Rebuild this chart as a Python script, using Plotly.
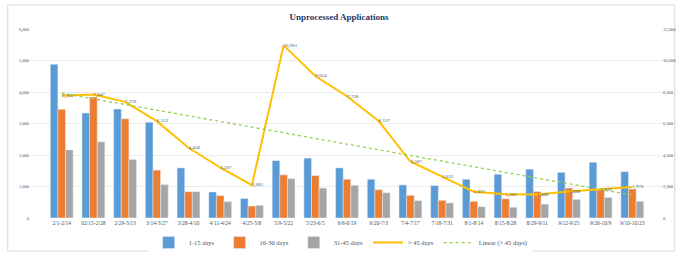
import numpy as np
import plotly.graph_objects as go

categories = ["2/1-2/14", "02/15-2/28", "2/29-3/13", "3/14-3/27", "3/28-4/10", "4/11-4/24",
              "4/25-5/8", "5/9-5/22", "5/23-6/5", "6/6-6/19", "6/20-7/3", "7/4-7/17",
              "7/18-7/31", "8/1-8/14", "8/15-8/28", "8/29-9/11", "9/12-9/25", "9/26-10/9",
              "9/10-10/23"]
days_1_15 = [4880, 3330, 3460, 3040, 1590, 825, 620, 1820, 1900, 1590, 1230, 1050,
             1030, 1230, 1390, 1550, 1450, 1770, 1470]
days_16_30 = [3450, 3840, 3150, 1520, 835, 710, 380, 1370, 1350, 1230, 900, 720,
              560, 530, 610, 840, 950, 890, 920]
days_31_45 = [2160, 2420, 1860, 1060, 835, 520, 400, 1250, 950, 1040, 800, 550,
              480, 360, 340, 440, 590, 650, 530]
days_over_45 = [7765, 7847, 7376, 6152, 4458, 3207, 2081, 10961, 9014, 7728, 6157, 3587,
                2632, 1671, 1502, 1488, 1688, 1822, 1976]

# Linear trendline of the "> 45 days" series (least-squares, like the spreadsheet trendline)
xi = np.arange(len(days_over_45))
slope, intercept = np.polyfit(xi, days_over_45, 1)
trend = (slope * xi + intercept).tolist()

SERIF = "Liberation Serif, Times New Roman, serif"
LABEL_COLOR = "#44546A"

fig = go.Figure()
fig.add_trace(go.Bar(x=categories, y=days_1_15, name="1-15 days", marker_color="#5B9BD5"))
fig.add_trace(go.Bar(x=categories, y=days_16_30, name="16-30 days", marker_color="#ED7D31"))
fig.add_trace(go.Bar(x=categories, y=days_31_45, name="31-45 days", marker_color="#A5A5A5"))
fig.add_trace(go.Scatter(
    x=categories, y=days_over_45, name="> 45 days", yaxis="y2", mode="lines+text",
    line=dict(color="#FFC000", width=2),
    text=[f"{v:,}" for v in days_over_45], textposition="middle right",
    textfont=dict(size=5, color=LABEL_COLOR, family=SERIF),
))
fig.add_trace(go.Scatter(
    x=categories, y=trend, name="Linear (> 45 days)", yaxis="y2", mode="lines",
    line=dict(color="#92D050", width=1.3, dash="dot"),
))

fig.update_layout(
    width=678, height=255,
    margin=dict(l=30, r=14, t=29, b=37, autoexpand=False),
    paper_bgcolor="white", plot_bgcolor="white",
    barmode="group", bargap=0.28, bargroupgap=0,
    font=dict(family=SERIF, color=LABEL_COLOR, size=6),
    title=dict(text="<b>Unprocessed Applications</b>", x=0.5, xanchor="center",
               y=1 - 17 / 255, yanchor="middle",
               font=dict(family=SERIF, size=9, color="#1F3864")),
    xaxis=dict(tickfont=dict(size=5.5, family=SERIF, color=LABEL_COLOR),
               showgrid=False, showline=False, ticks="", tickangle=0, automargin=False),
    yaxis=dict(range=[0, 6000], dtick=1000, tickformat=",d", automargin=False,
               tickfont=dict(size=4.5, family=SERIF, color=LABEL_COLOR),
               gridcolor="#EDEDED", gridwidth=1, zeroline=False, ticks="", showline=False),
    yaxis2=dict(range=[0, 12000], dtick=2000, tickformat=",d", overlaying="y", side="right",
                automargin=False, ticklabelstandoff=-2,
                tickfont=dict(size=4.5, family=SERIF, color=LABEL_COLOR),
                showgrid=False, zeroline=False, ticks="", showline=False),
    legend=dict(orientation="h", x=0.49, xanchor="center", y=-0.13, yanchor="middle",
                font=dict(size=6.5, family=SERIF, color=LABEL_COLOR),
                itemwidth=30, tracegroupgap=0),
    showlegend=True,
    shapes=[dict(type="rect", xref="paper", yref="paper",
                 x0=-0.035, x1=1.017, y0=-0.175, y1=1.127,
                 line=dict(color="#D9D9D9", width=1), fillcolor="rgba(0,0,0,0)", layer="below")],
)

fig.write_html("out.html", config={"displayModeBar": False},
               post_script="document.body.style.margin='0';")
